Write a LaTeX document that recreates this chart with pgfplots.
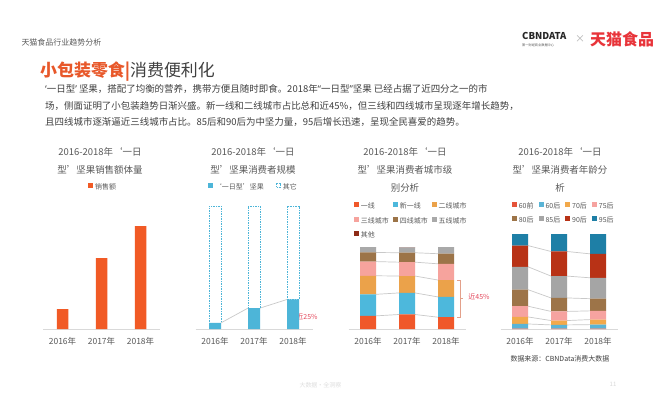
\documentclass[border=0pt]{standalone}
\usepackage{pgfplots}
\pgfplotsset{compat=1.18}
\usepackage{fontspec}
\setmainfont{Noto Sans CJK SC}
\newfontfamily\qf{Noto Sans}
\definecolor{txt}{HTML}{404040}
\definecolor{txtl}{HTML}{595959}
\definecolor{axgray}{HTML}{D9D9D9}
\definecolor{conn}{HTML}{C9C9C9}
\definecolor{ttlor}{HTML}{E8582A}
\definecolor{tmred}{HTML}{E8343A}
\definecolor{barOr}{HTML}{F15A25}
\definecolor{cBlue}{HTML}{4DB5D8}
\definecolor{anno}{HTML}{E4485C}
\definecolor{brk}{HTML}{E3A08A}
\definecolor{cA}{HTML}{F0582A}
\definecolor{cB}{HTML}{4DB8DC}
\definecolor{cC}{HTML}{EBA24A}
\definecolor{cD}{HTML}{F6A39D}
\definecolor{cE}{HTML}{9C7448}
\definecolor{cF}{HTML}{A9A9A9}
\definecolor{cG}{HTML}{8E2B17}
\definecolor{dA}{HTML}{E5533A}
\definecolor{dB}{HTML}{5AB4D6}
\definecolor{dC}{HTML}{F2A94B}
\definecolor{dD}{HTML}{F6A3A0}
\definecolor{dE}{HTML}{9D7448}
\definecolor{dF}{HTML}{A5A5A5}
\definecolor{dG}{HTML}{B83216}
\definecolor{dH}{HTML}{1E7FA6}
\newcommand{\fs}[2]{\fontsize{#1}{#2}\selectfont}
\pgfplotsset{
  minibar/.style={
    scale only axis, width=117bp,
    xmin=-0.5, xmax=2.5, ymin=0,
    axis x line*=bottom, axis y line=none,
    x axis line style={draw=axgray, line width=0.7bp, -},
    xtick={0,1,2}, xticklabels={2016年,2017年,2018年},
    major tick length=0pt, ytick=\empty,
    xticklabel style={font=\fs{8.5}{10}, text=txtl},
    xticklabel shift=5bp,
    legend style={draw=none, fill=none, font=\fs{7}{8}, text=txtl, inner sep=0pt,
      /tikz/every even column/.append style={column sep=3bp}},
    legend cell align=left,
    clip=false,
  },
  sqlegend/.style={legend image code/.code={\fill[##1] (0bp,-0.5bp) rectangle (5bp,4.5bp);}},
  dashlegend/.style={legend image code/.code={\draw[##1] (0.35bp,-0.15bp) rectangle (4.65bp,4.15bp);}},
  connax/.style={scale only axis, width=117bp, xmin=-0.5, xmax=2.5, ymin=0, hide axis, clip=false, unbounded coords=jump},
}
\begin{document}
\begin{tikzpicture}[x=1bp,y=1bp]
\path[use as bounding box] (0,0) rectangle (671,397);
\fill[white] (0,0) rectangle (671,397);

% header
\node[anchor=west, font=\fs{8}{9}, text=txtl] at (18,355) {天猫食品行业趋势分析};
\node[anchor=west, font=\fs{9.5}{10}\bfseries, text=black!85, inner sep=0pt] at (522,361) {CBNDATA};
\node[anchor=west, font=\fs{3.2}{4}, text=txtl, inner sep=0pt] at (522,351.5) {第一财经商业数据中心};
\node[font=\fs{10}{10}, text=gray!60] at (580,358) {×};
\node[anchor=west, font=\fs{16}{16}\bfseries, text=tmred, inner sep=0pt] at (590,358) {天猫食品};

% title and text
\node[anchor=west, font=\fs{17}{17}, inner sep=0pt] at (40,325) {\textcolor{ttlor}{\bfseries 小包装零食|}\textcolor{txt}{消费便利化}};
\node[anchor=west, font=\fs{9.5}{10}, text=txt, inner sep=0pt] at (45,308) {{\qf ‘}一日型{\qf ’} 坚果，搭配了均衡的营养，携带方便且随时即食。2018年{\qf “}一日型{\qf ”}坚果 已经占据了近四分之一的市};
\node[anchor=west, font=\fs{9.5}{10}, text=txt, inner sep=0pt] at (45,291) {场，侧面证明了小包装趋势日渐兴盛。新一线和二线城市占比总和近45\%，但三线和四线城市呈现逐年增长趋势，};
\node[anchor=west, font=\fs{9.5}{10}, text=txt, inner sep=0pt] at (45,275) {且四线城市逐渐逼近三线城市占比。85后和90后为中坚力量，95后增长迅速，呈现全民喜爱的趋势。};

% chart titles
\node[font=\fs{9.5}{18}, text=txtl, align=center] at (100,236) {2016-2018年‘一日\\型’坚果销售额体量};
\node[font=\fs{9.5}{18}, text=txtl, align=center] at (253,236) {2016-2018年‘一日\\型’坚果消费者规模};
\node[font=\fs{9.5}{18}, text=txtl, align=center] at (405,227) {2016-2018年‘一日\\型’坚果消费者城市级\\别分析};
\node[font=\fs{9.5}{18}, text=txtl, align=center] at (560,227) {2016-2018年‘一日\\型’坚果消费者年龄分\\析};

% ---------- chart 1
\begin{axis}[minibar, ybar, bar width=11.5bp, at={(43bp,68bp)}, anchor=south west,
  height=110bp, ymax=110, sqlegend,
  legend style={at={(0.385,1.29)}, anchor=west}]
\addplot[fill=barOr, draw=none] coordinates {(0,20) (1,71) (2,103)};
\addlegendentry{销售额}
\end{axis}

% ---------- chart 2
\begin{axis}[connax, at={(195.5bp,68bp)}, anchor=south west, height=123bp, ymax=100]
\addplot[conn, line width=0.7bp] coordinates {(0.154,5) (0.846,17) (1,nan) (1.154,17) (1.846,24)};
\end{axis}
\begin{axis}[minibar, ybar stacked, bar width=12bp, at={(195.5bp,68bp)}, anchor=south west,
  height=123bp, ymax=100, sqlegend,
  legend columns=2,
  legend style={at={(0.105,1.154)}, anchor=west, /tikz/every even column/.append style={column sep=10bp}}]
\addplot[fill=cBlue, draw=none] coordinates {(0,5) (1,17) (2,24)};
\addlegendentry{‘一日型’坚果}
\addplot[fill=white, draw=cBlue, line width=0.7bp, dash pattern=on 1.5bp off 1bp, dashlegend] coordinates {(0,95) (1,83) (2,76)};
\addlegendentry{其它}
\node[font=\fs{7}{8}, text=anno] at (axis cs:2.36,10) {近25\%};
\end{axis}

% ---------- chart 3
\begin{axis}[connax, at={(348.5bp,68bp)}, anchor=south west, height=82bp, ymax=100]
\addplot[conn, line width=0.7bp] coordinates {(0.205,16) (0.795,17.7) (1,nan) (1.205,17.7) (1.795,14.4)};
\addplot[conn, line width=0.7bp] coordinates {(0.205,42.3) (0.795,44.0) (1,nan) (1.205,44.0) (1.795,39.1)};
\addplot[conn, line width=0.7bp] coordinates {(0.205,64.9) (0.795,64.6) (1,nan) (1.205,64.6) (1.795,59.7)};
\addplot[conn, line width=0.7bp] coordinates {(0.205,82.2) (0.795,81.5) (1,nan) (1.205,81.5) (1.795,79.5)};
\addplot[conn, line width=0.7bp] coordinates {(0.205,93.3) (0.795,93.0) (1,nan) (1.205,93.0) (1.795,91.8)};
\end{axis}
\begin{axis}[minibar, ybar stacked, bar width=16bp, at={(348.5bp,68bp)}, anchor=south west,
  height=82bp, ymax=100, sqlegend,
  legend columns=3,
  legend style={at={(0.045,1.565)}, anchor=north west, /tikz/every even column/.append style={column sep=2bp}, row sep=3.2bp}]
\addplot[fill=cA, draw=none] coordinates {(0,16) (1,17.7) (2,14.4)};
\addlegendentry{一线}
\addplot[fill=cB, draw=none] coordinates {(0,26.3) (1,26.3) (2,24.7)};
\addlegendentry{新一线}
\addplot[fill=cC, draw=none] coordinates {(0,22.6) (1,20.6) (2,20.6)};
\addlegendentry{二线城市}
\addplot[fill=cD, draw=none] coordinates {(0,17.3) (1,16.9) (2,19.8)};
\addlegendentry{三线城市}
\addplot[fill=cE, draw=none] coordinates {(0,11.1) (1,11.5) (2,12.3)};
\addlegendentry{四线城市}
\addplot[fill=cF, draw=none] coordinates {(0,6.6) (1,6.6) (2,8.2)};
\addlegendentry{五线城市}
\addplot[fill=cG, draw=none] coordinates {(0,0.1) (1,0.4) (2,0)};
\addlegendentry{其他}
\draw[brk, line width=0.7bp] (axis cs:2.29,14.4) -- (axis cs:2.37,14.4) -- (axis cs:2.37,59.7) -- (axis cs:2.29,59.7);
\draw[brk, line width=0.7bp] (axis cs:2.37,37) -- (axis cs:2.43,37);
\node[font=\fs{7}{8}, text=anno] at (axis cs:2.846,39) {近45\%};
\end{axis}

% ---------- chart 4
\begin{axis}[connax, at={(500.5bp,68bp)}, anchor=south west, height=95bp, ymax=100]
\addplot[conn, line width=0.7bp] coordinates {(0.205,5.3) (0.795,4.3) (1,nan) (1.205,4.3) (1.795,4.6)};
\addplot[conn, line width=0.7bp] coordinates {(0.205,12.7) (0.795,8.9) (1,nan) (1.205,8.9) (1.795,9.9)};
\addplot[conn, line width=0.7bp] coordinates {(0.205,24.0) (0.795,18.5) (1,nan) (1.205,18.5) (1.795,19.1)};
\addplot[conn, line width=0.7bp] coordinates {(0.205,41.4) (0.795,32.7) (1,nan) (1.205,32.7) (1.795,31.9)};
\addplot[conn, line width=0.7bp] coordinates {(0.205,65.5) (0.795,55.7) (1,nan) (1.205,55.7) (1.795,53.9)};
\addplot[conn, line width=0.7bp] coordinates {(0.205,87.8) (0.795,81.6) (1,nan) (1.205,81.6) (1.795,79.1)};
\end{axis}
\begin{axis}[minibar, ybar stacked, bar width=16bp, at={(500.5bp,68bp)}, anchor=south west,
  height=95bp, ymax=100, sqlegend,
  legend columns=4,
  legend style={at={(0.095,1.355)}, anchor=north west, /tikz/every even column/.append style={column sep=3bp}, row sep=3.2bp}]
\addplot[fill=dA, draw=none] coordinates {(0,0.5) (1,0.5) (2,0.5)};
\addlegendentry{60前}
\addplot[fill=dB, draw=none] coordinates {(0,4.8) (1,3.8) (2,4.1)};
\addlegendentry{60后}
\addplot[fill=dC, draw=none] coordinates {(0,7.4) (1,4.6) (2,5.3)};
\addlegendentry{70后}
\addplot[fill=dD, draw=none] coordinates {(0,11.3) (1,9.6) (2,9.2)};
\addlegendentry{75后}
\addplot[fill=dE, draw=none] coordinates {(0,17.4) (1,14.2) (2,12.8)};
\addlegendentry{80后}
\addplot[fill=dF, draw=none] coordinates {(0,24.1) (1,23.0) (2,22.0)};
\addlegendentry{85后}
\addplot[fill=dG, draw=none] coordinates {(0,22.3) (1,25.9) (2,25.2)};
\addlegendentry{90后}
\addplot[fill=dH, draw=none] coordinates {(0,12.2) (1,18.4) (2,20.9)};
\addlegendentry{95后}
\end{axis}

% footer
\node[anchor=west, font=\fs{7}{8}, text=txt] at (507,38) {数据来源：CBNData消费大数据};
\node[anchor=west, font=\fs{6}{6}, text=black!13] at (296,12) {大数据·全洞察};
\node[font=\fs{6}{6}, text=black!15] at (613,13) {11};
\end{tikzpicture}
\end{document}
